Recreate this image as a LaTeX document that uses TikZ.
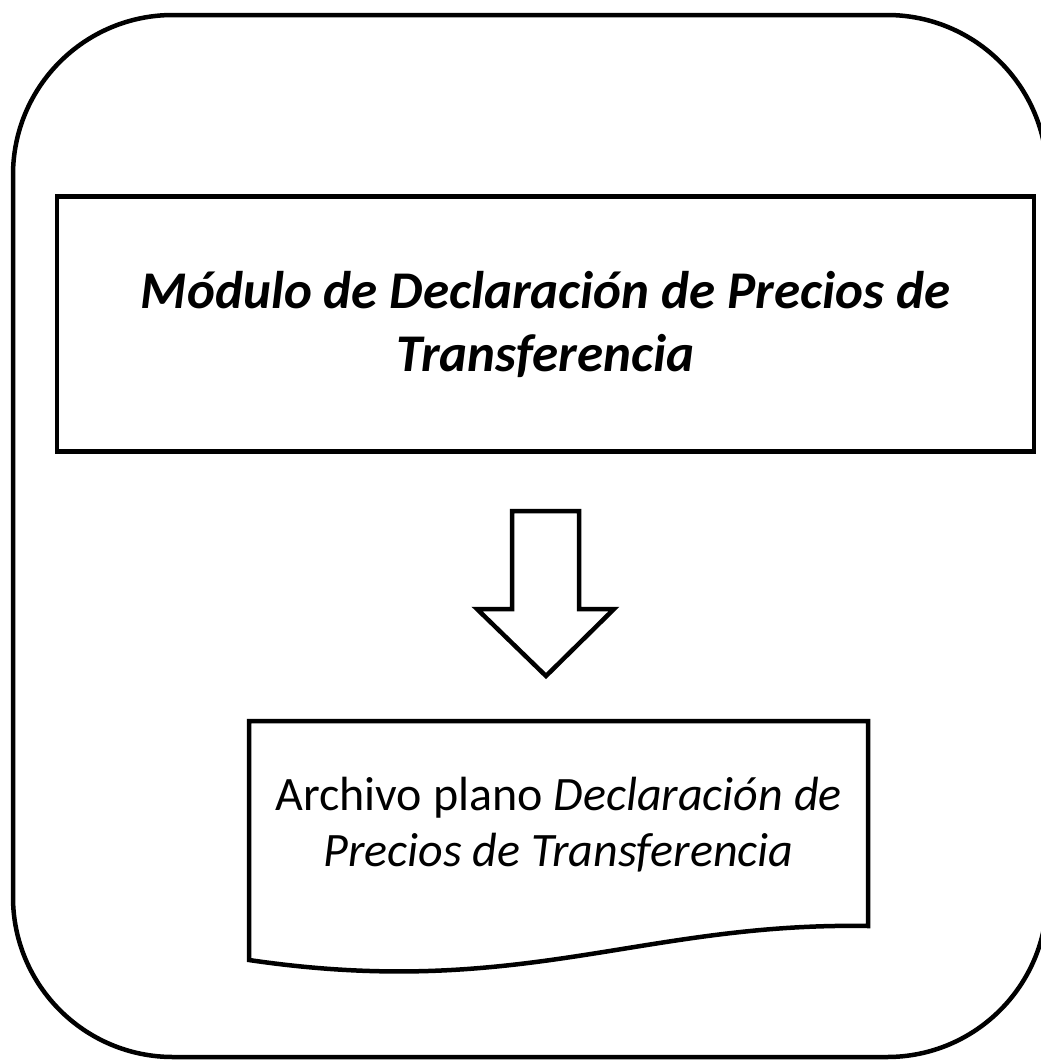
\documentclass[tikz,border=0pt]{standalone}
\usepackage{fontspec}
\setmainfont{Carlito}

\begin{document}
\begin{tikzpicture}[x=1pt,y=-1pt]
    \tikzset{Marco/.style={line width=4.5pt, rounded corners=160pt}}
    \tikzset{Borde/.style={line width=4.5pt, line join=miter}}
    \tikzset{Caja/.style={draw, line width=4.5pt, minimum width=977pt,
        minimum height=255pt, align=center, inner sep=0pt}}
    \useasboundingbox (0,0) rectangle (1041,1060);
    \draw[Marco] (13,15) rectangle (1047,1057);
    \node[Caja, font=\fontsize{53}{63}\selectfont\bfseries\itshape] (modulo)
        at (545.5,324) {Módulo de Declaración de Precios de\\Transferencia};
    \draw[Borde] (512,511) -- (579,511) -- (579,609) -- (614,609)
        -- (546,676) -- (477,609) -- (512,609) -- cycle;
    \draw[Borde] (249,721) -- (868,721) -- (868,926)
        .. controls (640,922) and (520,1000) .. (249,960) -- cycle;
    \node[font=\fontsize{48}{56}\selectfont, align=center] (archivo)
        at (558.5,825) {Archivo plano \textit{Declaración de}\\\textit{Precios de Transferencia}};
\end{tikzpicture}
\end{document}
